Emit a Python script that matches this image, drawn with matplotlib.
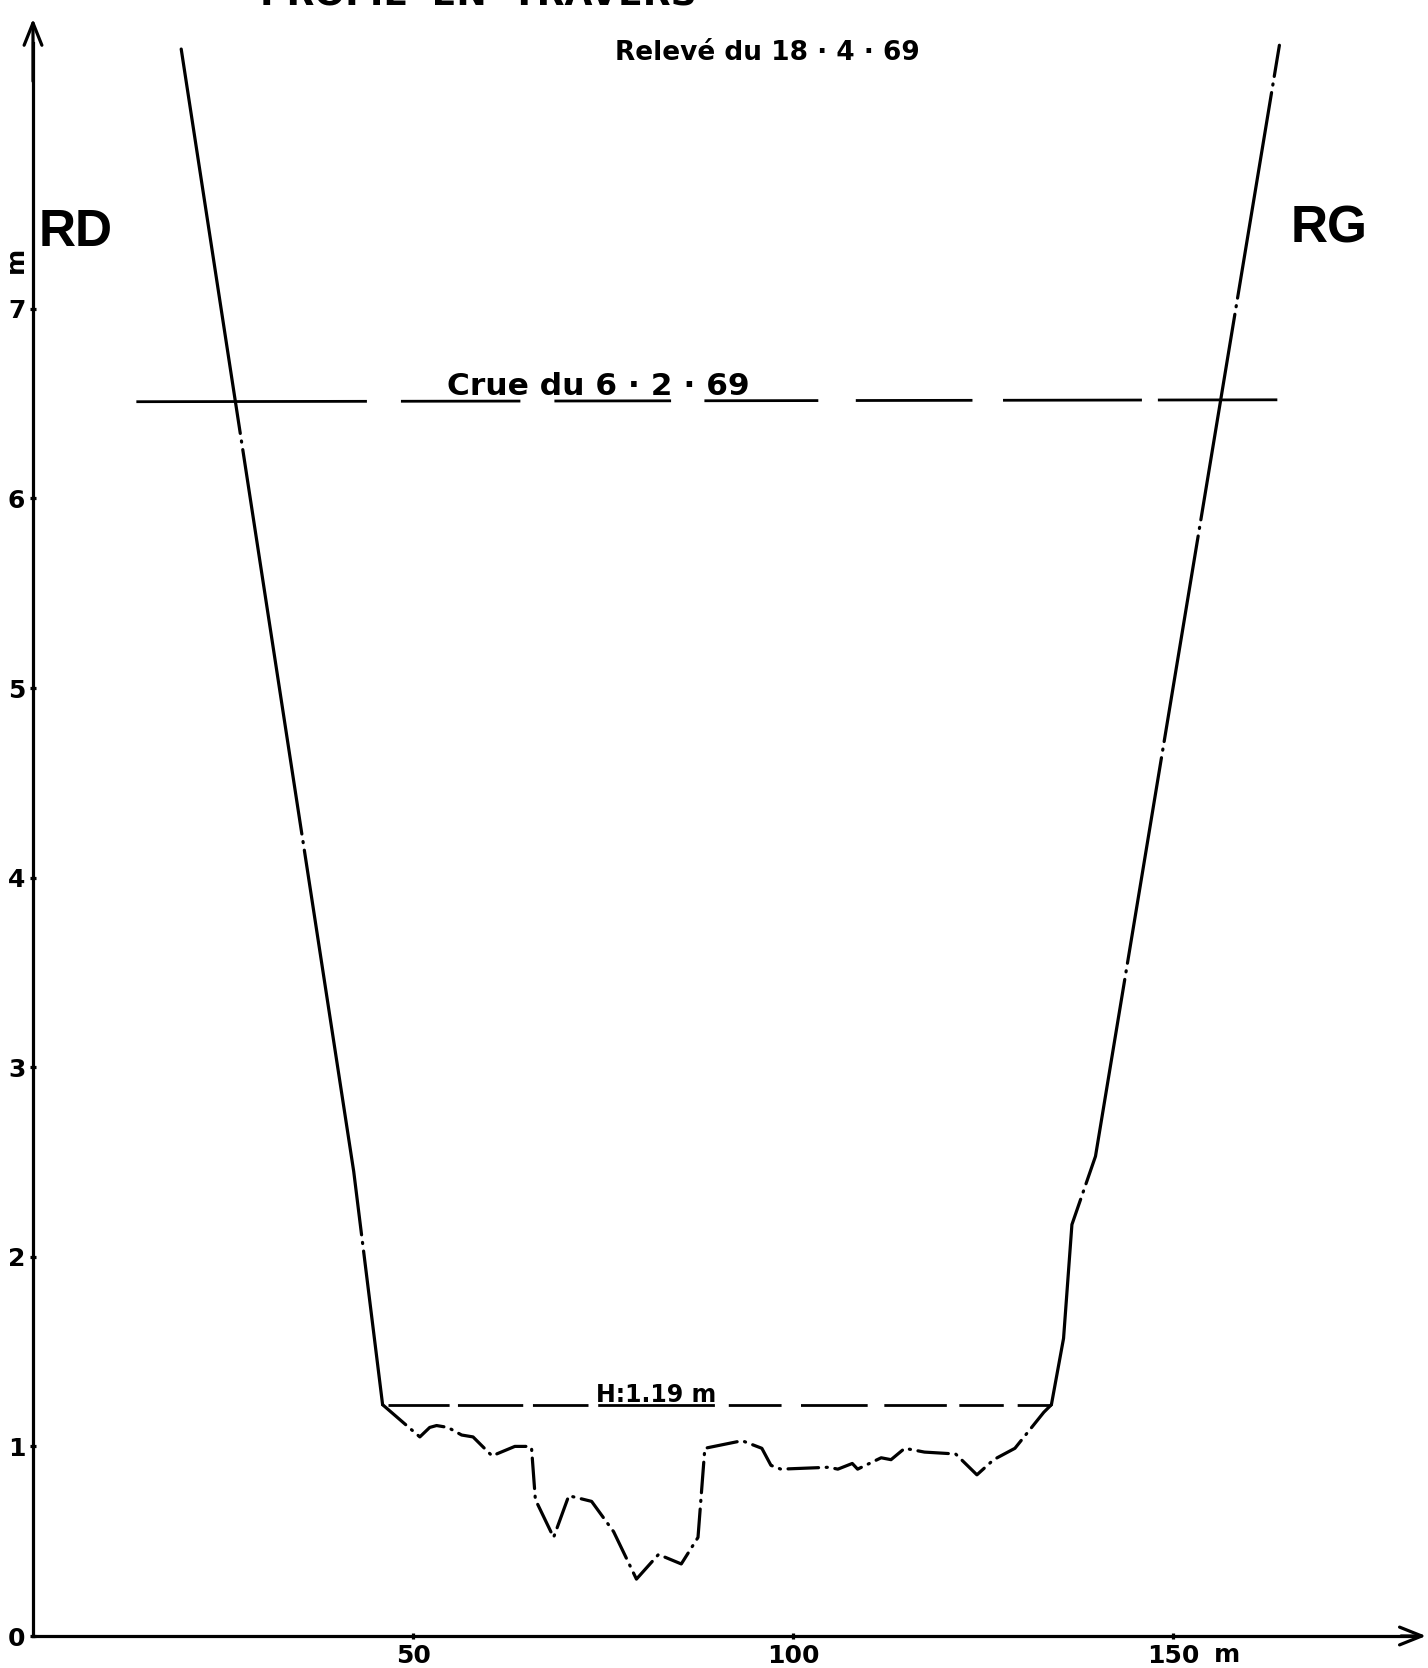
import matplotlib
matplotlib.use("Agg")
import matplotlib.pyplot as plt

plt.rcParams['lines.scale_dashes'] = False
plt.rcParams['font.family'] = ['DejaVu Sans']

# ---------------- data (metres) ----------------
left_bank_x = [19.5, 42.2, 46.0]
left_bank_y = [8.37, 2.45, 1.22]

bed_x = [46.0, 50.9, 52.2, 53.1, 54.6, 56.4, 57.9, 60.4, 63.4, 65.4, 65.6, 66.1,
         68.5, 70.5, 73.5, 76.4, 79.4, 82.3, 85.3, 87.5, 88.4, 93.3, 95.9, 97.1,
         98.4, 104.7, 105.9, 107.8, 108.5, 111.6, 112.9, 114.7, 117.3, 121.4,
         124.2, 126.4, 129.2, 133.0, 134.0]
bed_y = [1.22, 1.05, 1.10, 1.11, 1.10, 1.06, 1.05, 0.95, 1.00, 1.00, 0.99, 0.72,
         0.52, 0.74, 0.71, 0.55, 0.30, 0.43, 0.38, 0.52, 0.99, 1.03, 0.99, 0.90,
         0.88, 0.89, 0.88, 0.91, 0.88, 0.94, 0.93, 0.99, 0.97, 0.96,
         0.85, 0.93, 0.99, 1.18, 1.22]

right_bank_x = [134.0, 135.6, 136.7, 139.8, 164.0]
right_bank_y = [1.22, 1.57, 2.17, 2.53, 8.39]

crue_x = [13.6, 164.1]
crue_y = [6.51, 6.52]

h_x = [46.7, 133.9]
h_y = [1.22, 1.22]

xticks = [50, 100, 150]
yticks = [0, 1, 2, 3, 4, 5, 6, 7]

title_text = "PROFIL  EN  TRAVERS"
releve_text = "Relevé du 18 · 4 · 69"
crue_text = "Crue du 6 · 2 · 69"
h_text = "H:1.19 m"

# ---------------- figure ----------------
W, H = 1428, 1668
X0, PXM = 33.0, 7.6      # pixel of x=0, pixels per metre
Y0, PYM = 1636.0, 189.6  # pixel of y=0, pixels per metre

fig = plt.figure(figsize=(W / 100, H / 100), dpi=100, facecolor='white')
ax = fig.add_axes([0, 0, 1, 1])
ax.set_xlim(-X0 / PXM, (W - X0) / PXM)
ax.set_ylim((Y0 - H) / PYM, Y0 / PYM)
ax.set_facecolor('white')

LW = 2.3
for s in ['top', 'right']:
    ax.spines[s].set_visible(False)
ax.spines['left'].set_position(('data', 0))
ax.spines['bottom'].set_position(('data', 0))
ax.spines['left'].set_bounds(0, 8.40)
ax.spines['bottom'].set_bounds(0, 182.0)
for s in ['left', 'bottom']:
    ax.spines[s].set_linewidth(LW)

tickfont = dict(family=['DejaVu Sans'], weight='bold', size=18)
ax.set_xticks(xticks)
ax.set_xticklabels([str(v) for v in xticks], fontdict=tickfont)
ax.set_yticks(yticks)
ax.set_yticklabels([str(v) for v in yticks], fontdict=tickfont)
ax.tick_params(axis='both', direction='inout', length=5, width=LW)
ax.tick_params(axis='y', pad=3)
ax.tick_params(axis='x', pad=3)

# axis arrows
arrow = dict(arrowstyle='->,head_length=0.8,head_width=0.32', lw=LW,
             color='black', shrinkA=0, shrinkB=0, mutation_scale=20)
ax.annotate('', xy=(0, 8.53), xytext=(0, 8.2), arrowprops=arrow)
ax.annotate('', xy=(183.3, 0), xytext=(180.0, 0), arrowprops=arrow)

# profile lines
bank_style = (0, (280, 5.5, 0.8, 5.5))
bed_style = (0, (22, 5.5, 0.8, 5.5))
ax.plot(left_bank_x, left_bank_y, color='black', lw=2.3,
        linestyle=bank_style, dash_capstyle='round', solid_capstyle='round')
ax.plot(right_bank_x, right_bank_y, color='black', lw=2.3,
        linestyle=(0, (150, 5.5, 0.8, 5.5)), dash_capstyle='round')
ax.plot(bed_x, bed_y, color='black', lw=2.3,
        linestyle=bed_style, dash_capstyle='round', dash_joinstyle='round')

crue_style = (0, (166, 24.5, 86, 24.5, 84, 24, 82, 27, 84, 22, 100, 11.5, 86, 20))
ax.plot(crue_x, crue_y, color='black', lw=2.0, linestyle=crue_style)

h_style = (0, (44, 6, 47, 7, 40, 7, 84, 10, 38, 14, 48, 12, 45, 9, 32, 10))
ax.plot(h_x, h_y, color='black', lw=2.0, linestyle=h_style)

# texts
ax.text(29.9, 8.607, title_text, ha='left', va='baseline',
        fontsize=26, fontweight='bold')
ax.text(96.6, 8.31, releve_text, ha='center', va='baseline',
        fontsize=19, fontweight='bold')
ax.text(74.4, 6.545, crue_text, ha='center', va='baseline',
        fontsize=22.5, fontweight='bold')
ax.text(82.0, 1.235, h_text, ha='center', va='baseline',
        fontsize=17, fontweight='bold')
ax.text(0.7, 7.33, "RD", ha='left', va='baseline',
        family=['Liberation Sans', 'DejaVu Sans'], fontsize=37, fontweight='bold')
ax.text(165.5, 7.35, "RG", ha='left', va='baseline',
        family=['Liberation Sans', 'DejaVu Sans'], fontsize=37, fontweight='bold')
ax.text(-2.3, 7.26, "m", ha='center', va='center', rotation=90,
        fontsize=18, fontweight='bold')
ax.text(157.1, -0.10, "m", ha='center', va='center',
        fontsize=18, fontweight='bold')

fig.savefig("out.png", dpi=100, facecolor='white')
